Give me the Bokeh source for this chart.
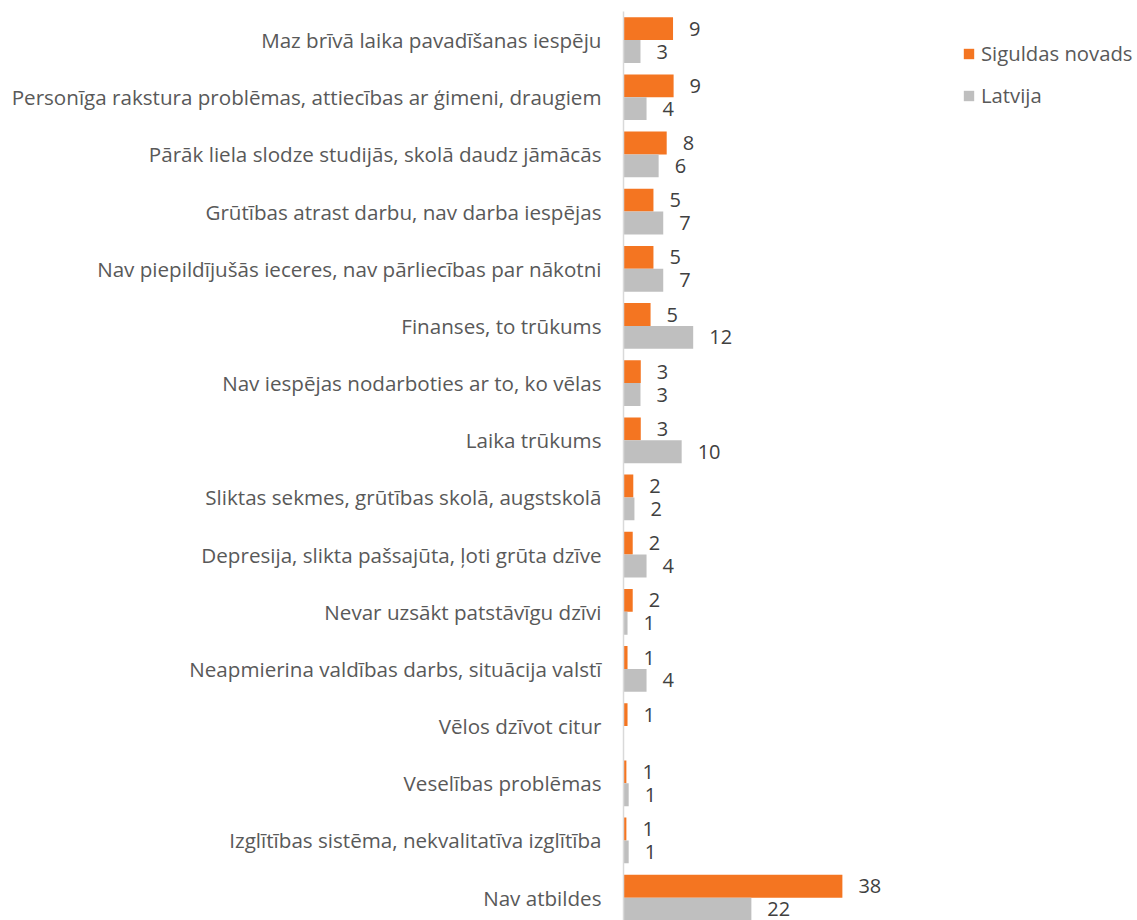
import math
from bokeh.plotting import figure
from bokeh.models import ColumnDataSource, Range1d, FixedTicker, Legend, LegendItem
from bokeh.transform import dodge
from bokeh.core.properties import value
from bokeh.embed import file_html
from bokeh.resources import INLINE

categories = [
    "Maz brīvā laika pavadīšanas iespēju",
    "Personīga rakstura problēmas, attiecības ar ģimeni, draugiem",
    "Pārāk liela slodze studijās, skolā daudz jāmācās",
    "Grūtības atrast darbu, nav darba iespējas",
    "Nav piepildījušās ieceres, nav pārliecības par nākotni",
    "Finanses, to trūkums",
    "Nav iespējas nodarboties ar to, ko vēlas",
    "Laika trūkums",
    "Sliktas sekmes, grūtības skolā, augstskolā",
    "Depresija, slikta pašsajūta, ļoti grūta dzīve",
    "Nevar uzsākt patstāvīgu dzīvi",
    "Neapmierina valdības darbs, situācija valstī",
    "Vēlos dzīvot citur",
    "Veselības problēmas",
    "Izglītības sistēma, nekvalitatīva izglītība",
    "Nav atbildes",
]
sigulda = [8.6, 8.7, 7.5, 5.2, 5.2, 4.7, 3.0, 3.0, 1.7, 1.6, 1.6, 0.7, 0.7, 0.5, 0.5, 38.0]
latvija = [2.95, 4.0, 6.1, 6.9, 6.9, 12.1, 2.95, 10.1, 1.9, 4.0, 0.7, 4.0, 0.0, 0.9, 0.9, 22.2]
series_names = ["Siguldas novads", "Latvija"]

ORANGE = "#F47521"
GRAY = "#BFBFBF"
FONT = "Open Sans"

def lab(v):
    return "" if v <= 0 else str(int(math.floor(v + 0.5)))

pos = list(range(len(categories)))
src = ColumnDataSource(dict(
    y=pos,
    sig=sigulda,
    lat=latvija,
    sig_lab=[lab(v) for v in sigulda],
    lat_lab=[lab(v) for v in latvija],
))

p = figure(width=1137, height=920, output_backend="svg", toolbar_location=None,
           x_range=Range1d(0, 514 / 5.76), y_range=Range1d(15.4, -0.5),
           x_axis_type=None, min_border_left=623, min_border_right=0,
           min_border_top=11, min_border_bottom=0)
p.outline_line_color = None
p.grid.visible = False
p.background_fill_color = "white"
p.border_fill_color = "white"

r1 = p.hbar(y=dodge("y", -0.2, range=p.y_range), right="sig", left=0, height=0.4,
            fill_color=ORANGE, line_color=None, source=src)
r2 = p.hbar(y=dodge("y", 0.2, range=p.y_range), right="lat", left=0, height=0.4,
            fill_color=GRAY, line_color=None, source=src)

p.text(x="sig", y=dodge("y", -0.2, range=p.y_range), text="sig_lab", x_offset=16,
       text_baseline="middle", text_align="left", text_font=value(FONT),
       text_font_size="20px", text_color="#404040", source=src)
p.text(x="lat", y=dodge("y", 0.2, range=p.y_range), text="lat_lab", x_offset=16,
       text_baseline="middle", text_align="left", text_font=value(FONT),
       text_font_size="20px", text_color="#404040", source=src)

ax = p.yaxis[0]
ax.ticker = FixedTicker(ticks=pos)
ax.major_label_overrides = {i: c for i, c in enumerate(categories)}
ax.major_tick_line_color = None
ax.minor_tick_line_color = None
ax.major_tick_out = 0
ax.major_tick_in = 0
ax.axis_line_color = "#D9D9D9"
ax.axis_line_width = 1.5
ax.major_label_standoff = 22
ax.major_label_text_font = FONT
ax.major_label_text_font_size = "20.6px"
ax.major_label_text_color = "#595959"

legend = Legend(items=[LegendItem(label=series_names[0], renderers=[r1]),
                       LegendItem(label=series_names[1], renderers=[r2])],
                location=(339, 811), orientation="vertical",
                glyph_width=13, glyph_height=13, label_standoff=6,
                label_text_font=FONT, label_text_font_size="20.3px",
                label_text_color="#595959", spacing=14, padding=0, margin=0,
                border_line_color=None, background_fill_alpha=0)
p.add_layout(legend)

open("out.html", "w").write(file_html(p, INLINE))
